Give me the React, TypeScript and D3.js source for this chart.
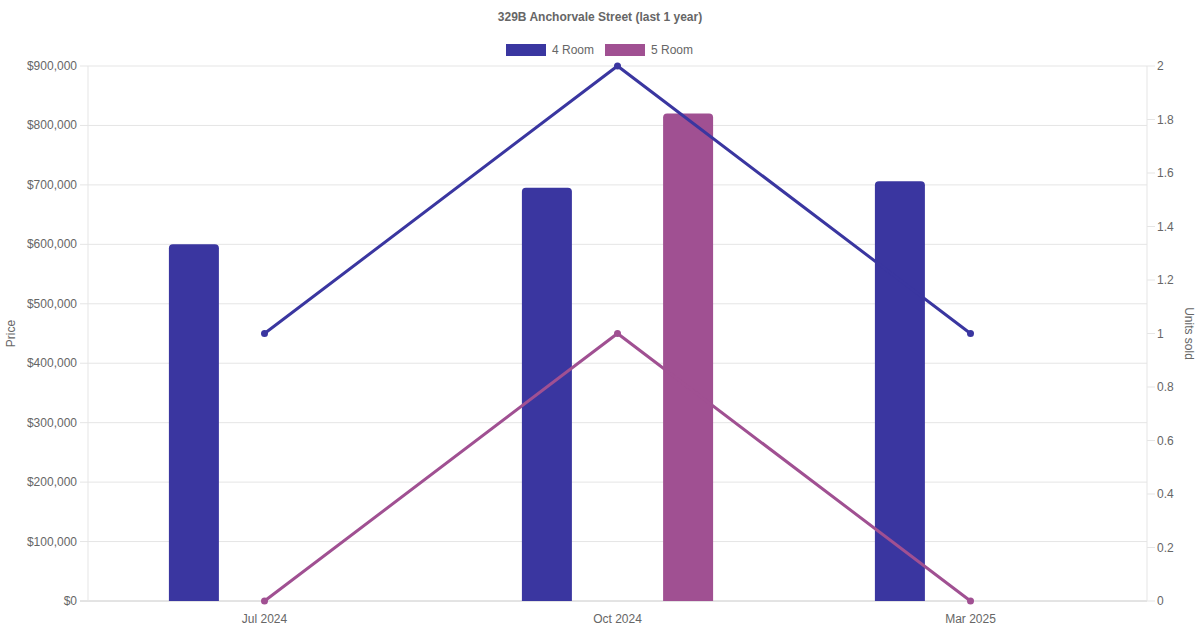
import React from "react";
import * as d3 from "d3";

const categories = ["Jul 2024", "Oct 2024", "Mar 2025"];
const seriesNames = ["4 Room", "5 Room"];
const price4Room: (number | null)[] = [600000, 695000, 706000];
const price5Room: (number | null)[] = [null, 820000, null];
const units4Room = [1, 2, 1];
const units5Room = [0, 1, 0];
const priceTicks = [0, 100000, 200000, 300000, 400000, 500000, 600000, 700000, 800000, 900000];
const unitTicks = [0, 0.2, 0.4, 0.6, 0.8, 1, 1.2, 1.4, 1.6, 1.8, 2];

const colors = ["#3a36a0", "#a05092"];
const W = 1200, H = 630;
const M = { left: 88, right: 1147, top: 66, bottom: 601 };
const font = "'Liberation Sans', Arial, Helvetica, sans-serif";
const textColor = "#666";

export default function App() {
  const x = d3.scaleBand().domain(categories).range([M.left, M.right]).paddingInner(0).paddingOuter(0);
  const yP = d3.scaleLinear().domain([0, 900000]).range([M.bottom, M.top]);
  const yU = d3.scaleLinear().domain([0, 2]).range([M.bottom, M.top]);
  const bw = x.bandwidth();
  const slot = (bw * 0.8) / 2;
  const barW = Math.min(slot * 0.9, 50);
  const fmt = (v: number) => "$" + d3.format(",")(v);
  const priceSeries = [price4Room, price5Room];
  const unitSeries = [units4Room, units5Room];
  const center = (c: string) => (x(c) as number) + bw / 2;
  const line = d3
    .line<number>()
    .x((_, i) => center(categories[i]))
    .y((d) => yU(d));

  const roundTop = (x0: number, y0: number, w: number, h: number, r: number) => {
    r = Math.min(r, h, w / 2);
    return `M${x0},${y0 + h}V${y0 + r}Q${x0},${y0} ${x0 + r},${y0}H${x0 + w - r}Q${x0 + w},${y0} ${x0 + w},${y0 + r}V${y0 + h}Z`;
  };

  return (
    <svg width={W} height={H} style={{ position: "absolute", left: 0, top: 0, background: "#fff" }} fontFamily={font}>
      <text x={600} y={21} textAnchor="middle" fontSize={12} fontWeight="bold" fill={textColor}>
        329B Anchorvale Street (last 1 year)
      </text>
      {/* legend */}
      {seriesNames.map((n, i) => {
        const lx = i === 0 ? 506 : 605;
        return (
          <g key={n}>
            <rect x={lx} y={44} width={40} height={12} fill={colors[i]} />
            <text x={lx + 46} y={54} fontSize={12} fill={textColor}>{n}</text>
          </g>
        );
      })}
      {/* grid */}
      {priceTicks.map((t) => (
        <g key={t}>
          <line x1={M.left - 8} x2={M.right} y1={yP(t)} y2={yP(t)} stroke={t === 0 ? "#c8c8c8" : "#e5e5e5"} strokeWidth={1} />
          <text x={M.left - 11} y={yP(t) + 4} textAnchor="end" fontSize={12} fill={textColor}>{fmt(t)}</text>
        </g>
      ))}
      {unitTicks.map((t) => (
        <g key={t}>
          <line x1={M.right} x2={M.right + 8} y1={yU(t)} y2={yU(t)} stroke="#e5e5e5" />
          <text x={M.right + 10} y={yU(t) + 4} fontSize={12} fill={textColor}>{t}</text>
        </g>
      ))}
      <line x1={M.left} x2={M.left} y1={M.top} y2={M.bottom} stroke="#e5e5e5" />
      <line x1={M.right} x2={M.right} y1={M.top} y2={M.bottom} stroke="#e5e5e5" />
      {categories.map((c) => (
        <text key={c} x={center(c)} y={623} textAnchor="middle" fontSize={12} fill={textColor}>{c}</text>
      ))}
      <text transform={`translate(15,${(M.top + M.bottom) / 2}) rotate(-90)`} textAnchor="middle" fontSize={12} fill={textColor}>Price</text>
      <text transform={`translate(1185,${(M.top + M.bottom) / 2}) rotate(90)`} textAnchor="middle" fontSize={12} fill={textColor}>Units sold</text>
      {/* bars */}
      {priceSeries.map((s, si) =>
        s.map((v, i) => {
          if (v == null) return null;
          const cx = (x(categories[i]) as number) + bw * 0.1 + slot * si + slot / 2;
          const y0 = yP(v);
          return <path key={`${si}-${i}`} d={roundTop(cx - barW / 2, y0, barW, M.bottom - y0, 4)} fill={colors[si]} />;
        })
      )}
      {/* lines */}
      {unitSeries.map((s, si) => (
        <g key={si}>
          <path d={line(s) || ""} fill="none" stroke={colors[si]} strokeWidth={3} />
          {s.map((v, i) => (
            <circle key={i} cx={center(categories[i])} cy={yU(v)} r={3.5} fill={colors[si]} />
          ))}
        </g>
      ))}
    </svg>
  );
}
